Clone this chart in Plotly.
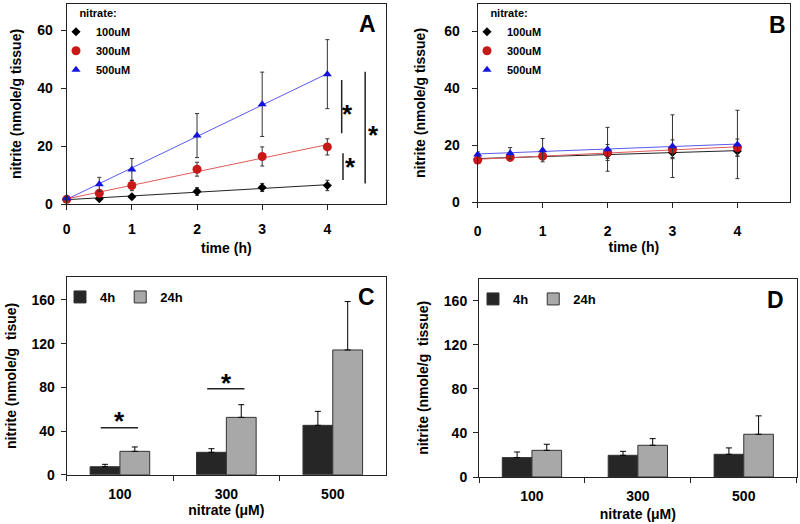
import numpy as np
import plotly.graph_objects as go

# ---------------- data ----------------
times = [0, 0.5, 1, 2, 3, 4]
series_names = ["100uM", "300uM", "500uM"]

# Panel A
A_100 = [1.8, 1.8, 2.5, 4.3, 5.7, 6.4]
A_100_err = [0.4, 0.5, 0.6, 1.3, 1.4, 1.8]
A_300 = [1.6, 3.7, 6.4, 12.0, 16.4, 19.7]
A_300_err = [0.5, 1.0, 1.8, 2.4, 3.3, 2.8]
A_500 = [2.0, 6.8, 11.9, 23.6, 34.4, 44.8]
A_500_err = [0.6, 2.4, 3.8, 7.6, 11.1, 11.9]

# Panel B
B_100 = [15.1, 15.6, 16.0, 16.8, 17.4, 17.9]
B_100_err = [0.8, 0.8, 1.0, 1.5, 1.8, 1.8]
B_300 = [14.7, 15.7, 16.1, 17.4, 18.5, 19.1]
B_300_err = [0.8, 0.9, 1.2, 2.8, 3.3, 3.0]
B_500 = [16.7, 17.1, 18.2, 18.5, 19.6, 20.2]
B_500_err = [0.9, 2.0, 4.1, 7.7, 11.0, 12.0]

# Panels C and D
nitrate_cats = ["100", "300", "500"]
bar_names = ["4h", "24h"]
C_4h = [7.3, 20.5, 45.2]
C_4h_err = [2.2, 3.3, 12.8]
C_24h = [21.4, 52.5, 114.2]
C_24h_err = [4.0, 11.6, 44.3]
D_4h = [17.6, 19.7, 20.6]
D_4h_err = [5.1, 3.6, 5.8]
D_24h = [24.2, 28.8, 38.8]
D_24h_err = [5.5, 6.0, 16.7]

# significance markers
A_sig_x = [4.22, 4.24, 4.58]
A_sig_y0 = [24.4, 8.3, 7.1]
A_sig_y1 = [42.8, 17.5, 45.6]
A_star_x = [4.31, 4.36, 4.71]
A_star_y = [31.1, 12.8, 23.9]
C_sig_idx = [0, 1]
C_sig_y = [43.0, 78.7]
C_star_y = [49.0, 84.0]

# ---------------- styles ----------------
FONT = "Liberation Sans, Arial, sans-serif"
marker_styles = [
    dict(symbol="diamond", size=7, color="#000000"),
    dict(symbol="circle", size=9, color="#c81818"),
    dict(symbol="triangle-up", size=8, color="#1414dc"),
]
line_colors = ["#222222", "#e05a5a", "#5a5aee"]
bar_colors = ["#262626", "#a8a8a8"]

fig = go.Figure()


def add_time_panel(xa, ya, legend, values, errs):
    for i, (name, yv, ev) in enumerate(zip(series_names, values, errs)):
        slope, icpt = np.polyfit(times, yv, 1)
        xs = [times[0], times[-1]]
        fig.add_trace(go.Scatter(
            x=xs, y=[icpt + slope * x for x in xs], mode="lines",
            line=dict(color=line_colors[i], width=1), showlegend=False,
            hoverinfo="skip", xaxis=xa, yaxis=ya, cliponaxis=False))
    for i, (name, yv, ev) in enumerate(zip(series_names, values, errs)):
        fig.add_trace(go.Scatter(
            x=times, y=yv, mode="markers", name=name, legend=legend,
            marker=dict(**marker_styles[i]),
            error_y=dict(type="data", array=ev, color="#333333", thickness=1, width=2),
            xaxis=xa, yaxis=ya, cliponaxis=False))


add_time_panel("x", "y", "legend", [A_100, A_300, A_500], [A_100_err, A_300_err, A_500_err])
add_time_panel("x2", "y2", "legend2", [B_100, B_300, B_500], [B_100_err, B_300_err, B_500_err])


def add_bar_panel(xa, ya, legend, vals, errs):
    for i, (name, v, e) in enumerate(zip(bar_names, vals, errs)):
        fig.add_trace(go.Bar(
            x=nitrate_cats, y=v, name=name, legend=legend,
            marker=dict(color=bar_colors[i], line=dict(color="#333333", width=1)),
            error_y=dict(type="data", array=e, arrayminus=[0] * len(e), symmetric=False,
                         color="#000000", thickness=1, width=3),
            xaxis=xa, yaxis=ya))


add_bar_panel("x3", "y3", "legend3", [C_4h, C_24h], [C_4h_err, C_24h_err])
add_bar_panel("x4", "y4", "legend4", [D_4h, D_24h], [D_4h_err, D_24h_err])

# ---------------- axes ----------------
tickfont = dict(family=FONT, size=14, color="black", weight="bold")
titlefont = dict(family=FONT, size=14, color="black", weight="bold")
base = dict(showline=True, linecolor="#222222", linewidth=1, mirror=True, ticks="outside",
            ticklen=5, tickcolor="#222222", showgrid=False, zeroline=False, tickfont=tickfont,
            automargin=False)

W, H = 800, 524


def px_x(a, b):
    return [a / W, b / W]


def px_y(top, bottom):
    return [1 - bottom / H, 1 - top / H]


fig.update_layout(
    width=W, height=H, margin=dict(l=0, r=0, t=0, b=0, autoexpand=False),
    paper_bgcolor="white", plot_bgcolor="white",
    font=dict(family=FONT, color="black"),
    barmode="group", bargap=0.44, bargroupgap=0,
    xaxis=dict(base, domain=px_x(66.7, 386), range=[0, 4.9], tickvals=[0, 1, 2, 3, 4],
               anchor="y", ticklabelstandoff=7,
               title=dict(text="time (h)", font=titlefont, standoff=7)),
    yaxis=dict(base, domain=px_y(4, 204), range=[0, 69], tickvals=[0, 20, 40, 60],
               anchor="x", ticklabelstandoff=5,
               title=dict(text="nitrite (nmole/g tissue)", font=titlefont, standoff=12)),
    xaxis2=dict(base, domain=px_x(477.7, 790), range=[0, 4.81], tickvals=[0, 1, 2, 3, 4],
                anchor="y2", ticklabelstandoff=11,
                title=dict(text="time (h)", font=titlefont, standoff=0)),
    yaxis2=dict(base, domain=px_y(4, 202), range=[0, 69.5], tickvals=[0, 20, 40, 60],
                anchor="x2", ticklabelstandoff=9,
                title=dict(text="nitrite (nmole/g tissue)", font=titlefont, standoff=15)),
    xaxis3=dict(base, domain=px_x(66.7, 386), type="category", tickson="boundaries",
                range=[-0.5, 2.5], anchor="y3", ticklabelstandoff=6,
                title=dict(text="nitrate (\u03bcM)", font=titlefont, standoff=4)),
    yaxis3=dict(base, domain=px_y(277, 474.7), range=[0, 181], tickvals=[0, 40, 80, 120, 160],
                anchor="x3", ticklabelstandoff=3,
                title=dict(text="nitrite (nmole/g\u00a0 tisue)", font=titlefont, standoff=11)),
    xaxis4=dict(base, domain=px_x(479, 796.7), type="category", tickson="boundaries",
                range=[-0.5, 2.5], anchor="y4", ticklabelstandoff=6,
                title=dict(text="nitrate (\u03bcM)", font=titlefont, standoff=6)),
    yaxis4=dict(base, domain=px_y(278.7, 477), range=[0, 180], tickvals=[0, 40, 80, 120, 160],
                anchor="x4", ticklabelstandoff=3,
                title=dict(text="nitrite (nmole/g\u00a0 tissue)", font=titlefont, standoff=11)),
)

legend_common = dict(font=dict(family=FONT, size=11, color="black", weight="bold"),
                     bgcolor="rgba(0,0,0,0)", itemwidth=30, xanchor="left", yanchor="top",
                     title=dict(text="\u00a0\u00a0\u00a0\u00a0\u00a0\u00a0\u00a0nitrate:",
                                font=dict(family=FONT, size=11, color="black", weight="bold")),
                     itemclick=False, itemdoubleclick=False)
bar_legend_common = dict(font=dict(family=FONT, size=13, color="black", weight="bold"),
                         bgcolor="rgba(0,0,0,0)", orientation="h", xanchor="left",
                         yanchor="middle", itemwidth=30,
                         itemclick=False, itemdoubleclick=False)
fig.update_layout(
    legend=dict(legend_common, x=56 / W, y=1 - 3 / H),
    legend2=dict(legend_common, x=(56 + 411) / W, y=1 - 3 / H),
    legend3=dict(bar_legend_common, x=60 / W, y=1 - 297 / H),
    legend4=dict(bar_legend_common, x=(60 + 413) / W, y=1 - 299 / H),
)

# ---------------- annotations & shapes ----------------
letter_font = dict(family=FONT, size=23, color="black", weight="bold")
star_font = dict(family=FONT, size=26, color="black", weight="bold")
for xa, ya, txt, x, y in [("x", "y", "A", 4.61, 62), ("x2", "y2", "B", 4.61, 62),
                          ("x3", "y3", "C", 2.32, 162.7), ("x4", "y4", "D", 2.30, 160.6)]:
    fig.add_annotation(x=x, y=y, xref=xa, yref=ya, text=txt, showarrow=False,
                       font=letter_font, xanchor="center", yanchor="middle")

for xs, y0, y1 in zip(A_sig_x, A_sig_y0, A_sig_y1):
    fig.add_shape(type="line", xref="x", yref="y", x0=xs, x1=xs, y0=y0, y1=y1,
                  line=dict(color="#222222", width=1.5))
for sx, sy in zip(A_star_x, A_star_y):
    fig.add_annotation(x=sx, y=sy, xref="x", yref="y", text="*", showarrow=False,
                       font=star_font, xanchor="center", yanchor="middle")

for idx, yv, sy in zip(C_sig_idx, C_sig_y, C_star_y):
    fig.add_shape(type="line", xref="x3", yref="y3", x0=idx - 0.18, x1=idx + 0.17, y0=yv, y1=yv,
                  line=dict(color="#222222", width=1.5))
    fig.add_annotation(x=idx, y=sy, xref="x3", yref="y3", text="*", showarrow=False,
                       font=star_font, xanchor="center", yanchor="middle")

fig.write_html("out.html", config={"displayModeBar": False},
               post_script="document.body.style.margin='0px';")
